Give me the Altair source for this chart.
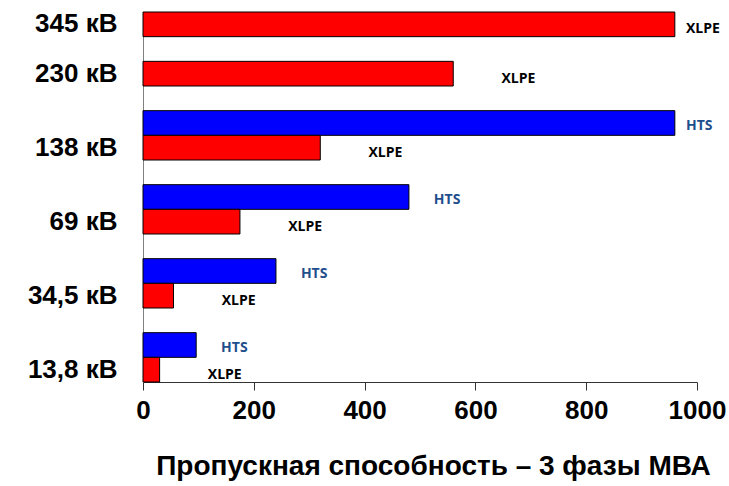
import altair as alt
import pandas as pd

# Cable capacity by voltage class, three-phase MVA
categories = ["345 кВ", "230 кВ", "138 кВ", "69 кВ", "34,5 кВ", "13,8 кВ"]
hts_mva = [None, None, 960, 480, 240, 96]
xlpe_mva = [960, 560, 320, 175, 55, 30]
x_ticks = [0, 200, 400, 600, 800, 1000]

# One band per bar slot; groups are separated by an empty slot
rows = []
slot_order = []
for i, cat in enumerate(categories):
    if hts_mva[i] is not None:
        key = f"{cat}|HTS"
        slot_order.append(key)
        rows.append({"slot": key, "series": "HTS", "mva": hts_mva[i]})
    key = f"{cat}|XLPE"
    slot_order.append(key)
    rows.append({"slot": key, "series": "XLPE", "mva": xlpe_mva[i]})
    if i < len(categories) - 1:
        slot_order.append(f"{cat}|gap")

df = pd.DataFrame(rows)

x_scale = alt.Scale(domain=[0, 1000], nice=False, zero=True)
y_scale = alt.Scale(domain=slot_order, paddingInner=0, paddingOuter=0)

base = alt.Chart(df)

bars = base.mark_bar(stroke="black", strokeWidth=1).encode(
    x=alt.X(
        "mva:Q",
        scale=x_scale,
        axis=alt.Axis(
            values=x_ticks,
            format="d",
            grid=False,
            tickSize=8,
            tickColor="#333333",
            domainColor="#333333",
            labelFont="Liberation Sans",
            labelFontSize=26,
            labelFontWeight="bold",
            labelColor="black",
            labelPadding=7,
            labelFlush=False,
            title="Пропускная способность – 3 фазы МВА",
            titleFont="Liberation Sans",
            titleFontSize=28,
            titleFontWeight="bold",
            titleColor="black",
            titleX=290,
            titleY=92,
            titleAlign="center",
            titleBaseline="alphabetic",
        ),
    ),
    y=alt.Y(
        "slot:N",
        scale=y_scale,
        sort=slot_order,
        axis=alt.Axis(
            title=None,
            ticks=False,
            tickSize=0,
            domainColor="#808080",
            labelExpr="indexof(datum.value, '|XLPE') > 0 ? split(datum.value, '|')[0] : ''",
            labelFont="Liberation Sans",
            labelFontSize=26,
            labelFontWeight="bold",
            labelColor="black",
            labelPadding=26,
        ),
    ),
    color=alt.Color(
        "series:N",
        scale=alt.Scale(domain=["HTS", "XLPE"], range=["#0000ff", "#ff0000"]),
        legend=None,
    ),
)

# Series names placed just past each bar end, kept inside the plot
labels_base = base.transform_calculate(
    label_pos="min(datum.mva + (datum.series == 'HTS' ? 45 : 87), 980)"
)

hts_labels = labels_base.transform_filter("datum.series == 'HTS'").mark_text(
    align="left", baseline="middle", dy=3,
    font="Open Sans", fontSize=14, fontWeight="bold", color="#1f4e8c",
).encode(
    x=alt.X("label_pos:Q", scale=x_scale),
    y=alt.Y("slot:N", scale=y_scale, sort=slot_order),
    text="series:N",
)

xlpe_labels = labels_base.transform_filter("datum.series == 'XLPE'").mark_text(
    align="left", baseline="middle", dy=5,
    font="Open Sans", fontSize=14, fontWeight="bold", color="black",
).encode(
    x=alt.X("label_pos:Q", scale=x_scale),
    y=alt.Y("slot:N", scale=y_scale, sort=slot_order),
    text="series:N",
)

chart = (
    alt.layer(bars, hts_labels, xlpe_labels)
    .properties(
        width=554,
        height=370,
        padding={"left": 143, "top": 12, "right": 32, "bottom": 104},
        autosize=alt.AutoSizeParams(type="none"),
        background="white",
    )
    .configure_view(stroke=None)
)

chart.save("out.html", embed_options={"renderer": "svg", "actions": False})
